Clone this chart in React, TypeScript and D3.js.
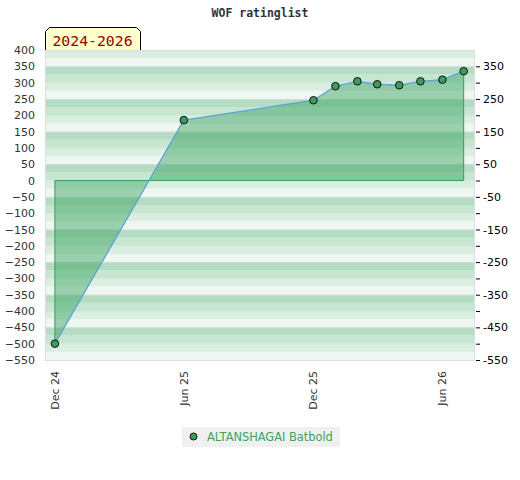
import React, { useEffect, useRef } from 'react';
import * as d3 from 'd3';

// rating per month
const dates = ['2024-12-01', '2025-06-01', '2025-12-01', '2026-01-01', '2026-02-01', '2026-03-01', '2026-04-01', '2026-05-01', '2026-06-01', '2026-07-01'];
const ratings = [-500, 185, 246, 289, 304, 295, 292, 304, 309, 335];

const leftTicks = [400, 350, 300, 250, 200, 150, 100, 50, 0, -50, -100, -150, -200, -250, -300, -350, -400, -450, -500, -550];
const rightTicks = [350, 250, 150, 50, -50, -150, -250, -350, -450, -550];
const xTickDates = ['2024-12-01', '2025-06-01', '2025-12-01', '2026-06-01'];
const bandColors = ['#b3dcc2', '#c7e6d2', '#dbeee2', '#eef7f1'];

const playerName = 'ALTANSHAGAI Batbold';
const chartTitle = 'WOF ratinglist';
const tabLabel = '2024-2026';

const parse = d3.timeParse('%Y-%m-%d');

const App: React.FC = () => {
  const ref = useRef<SVGSVGElement>(null);

  useEffect(() => {
    if (!ref.current) return;
    const svg = d3.select(ref.current);
    svg.selectAll('*').remove();

    const left = 45, right = 475, top = 50, bottom = 360;
    const font = 'DejaVu Sans, sans-serif';

    const x = d3.scaleTime()
      .domain([parse('2024-11-17')!, parse('2026-07-17')!])
      .range([left, right]);
    const y = d3.scaleLinear().domain([-550, 400]).range([bottom, top]);

    const points = dates.map((d, i) => ({ date: parse(d)!, value: ratings[i] }));

    // title
    svg.append('text')
      .attr('x', 260).attr('y', 17)
      .attr('text-anchor', 'middle')
      .attr('font-family', 'DejaVu Sans Mono, monospace')
      .attr('font-weight', 'bold')
      .attr('font-size', 11.5)
      .attr('fill', '#333')
      .text(chartTitle);

    // striped background, 25-unit bands
    const bands = d3.range(-550, 400, 25);
    svg.append('g').selectAll('rect')
      .data(bands)
      .enter()
      .append('rect')
      .attr('x', left)
      .attr('width', right - left)
      .attr('y', d => y(d + 25))
      .attr('height', d => y(d) - y(d + 25))
      .attr('fill', d => bandColors[(((350 - (d + 25)) / 25) % 4 + 4) % 4]);

    // grid lines
    svg.append('g').selectAll('line')
      .data(leftTicks.slice(1, -1))
      .enter()
      .append('line')
      .attr('x1', left).attr('x2', right)
      .attr('y1', d => y(d) + 0.5).attr('y2', d => y(d) + 0.5)
      .attr('stroke', d => (rightTicks.includes(d) ? '#d6d9d7' : '#d8e6dc'))
      .attr('stroke-width', 1);

    svg.append('rect')
      .attr('x', left + 0.5).attr('y', top + 0.5)
      .attr('width', right - left - 1).attr('height', bottom - top)
      .attr('fill', 'none')
      .attr('stroke', '#dddddd');

    // area between the line and zero
    const area = d3.area<{ date: Date; value: number }>()
      .x(d => x(d.date))
      .y0(y(0))
      .y1(d => y(d.value));
    svg.append('path')
      .datum(points)
      .attr('d', area)
      .attr('fill', 'rgba(50,160,90,0.45)');

    const first = points[0], last = points[points.length - 1];
    svg.append('path')
      .attr('d', `M${x(first.date)},${y(first.value)}V${y(0)}H${x(last.date)}V${y(last.value)}`)
      .attr('fill', 'none')
      .attr('stroke', '#3c9c5c')
      .attr('stroke-width', 1);

    const line = d3.line<{ date: Date; value: number }>()
      .x(d => x(d.date))
      .y(d => y(d.value));
    svg.append('path')
      .datum(points)
      .attr('d', line)
      .attr('fill', 'none')
      .attr('stroke', '#5ea2d8')
      .attr('stroke-width', 1.3);

    svg.append('g').selectAll('circle')
      .data(points)
      .enter()
      .append('circle')
      .attr('cx', d => x(d.date))
      .attr('cy', d => y(d.value))
      .attr('r', 3.8)
      .attr('fill', '#3a9d5d')
      .attr('stroke', '#111')
      .attr('stroke-width', 1);

    // left axis
    svg.append('g')
      .attr('transform', `translate(${left - 10},0)`)
      .call(d3.axisLeft(y).tickValues(leftTicks).tickSize(0).tickPadding(0))
      .call(g => g.select('.domain').remove())
      .call(g => g.selectAll('text')
        .attr('font-family', font)
        .attr('font-size', 11)
        .attr('fill', '#333'));

    // right axis
    svg.append('g')
      .attr('transform', `translate(${right + 1},0)`)
      .call(d3.axisRight(y).tickValues(leftTicks.slice(1)).tickSize(4).tickPadding(3)
        .tickFormat(d => (rightTicks.includes(d as number) ? String(d) : '')))
      .call(g => g.select('.domain').remove())
      .call(g => g.selectAll('line').attr('stroke', '#000'))
      .call(g => g.selectAll('text')
        .attr('font-family', font)
        .attr('font-size', 11)
        .attr('fill', '#000'));

    // x tick labels, rotated
    svg.append('g').selectAll('text')
      .data(xTickDates.map(d => parse(d)!))
      .enter()
      .append('text')
      .attr('transform', d => `translate(${x(d)},${bottom + 11}) rotate(-90)`)
      .attr('text-anchor', 'end')
      .attr('dy', '0.35em')
      .attr('font-family', font)
      .attr('font-size', 11)
      .attr('fill', '#333')
      .text(d => d3.timeFormat('%b %y')(d));

    // tab title
    svg.append('path')
      .attr('d', `M${left + 0.5},${top}V31.5L49.5,27.5H136.5L140.5,31.5V${top}`)
      .attr('fill', '#ffffcc')
      .attr('stroke', '#000')
      .attr('stroke-width', 1);
    svg.append('text')
      .attr('x', 92.5).attr('y', 45.5)
      .attr('text-anchor', 'middle')
      .attr('font-family', 'DejaVu Sans Mono, monospace')
      .attr('font-size', 14.8)
      .attr('fill', '#990000')
      .text(tabLabel);

    // legend
    svg.append('rect')
      .attr('x', 182).attr('y', 427)
      .attr('width', 158).attr('height', 20)
      .attr('fill', '#f0f0f0');
    svg.append('circle')
      .attr('cx', 193.5).attr('cy', 436.5)
      .attr('r', 3.5)
      .attr('fill', '#3a9d5d')
      .attr('stroke', '#111');
    svg.append('text')
      .attr('x', 207).attr('y', 440.5)
      .attr('font-family', font)
      .attr('font-size', 11.4)
      .attr('fill', '#3aa35e')
      .text(playerName);
  }, []);

  return (
    <svg
      ref={ref}
      width={520}
      height={480}
      style={{ position: 'absolute', left: 0, top: 0, background: '#fff' }}
    />
  );
};

export default App;
